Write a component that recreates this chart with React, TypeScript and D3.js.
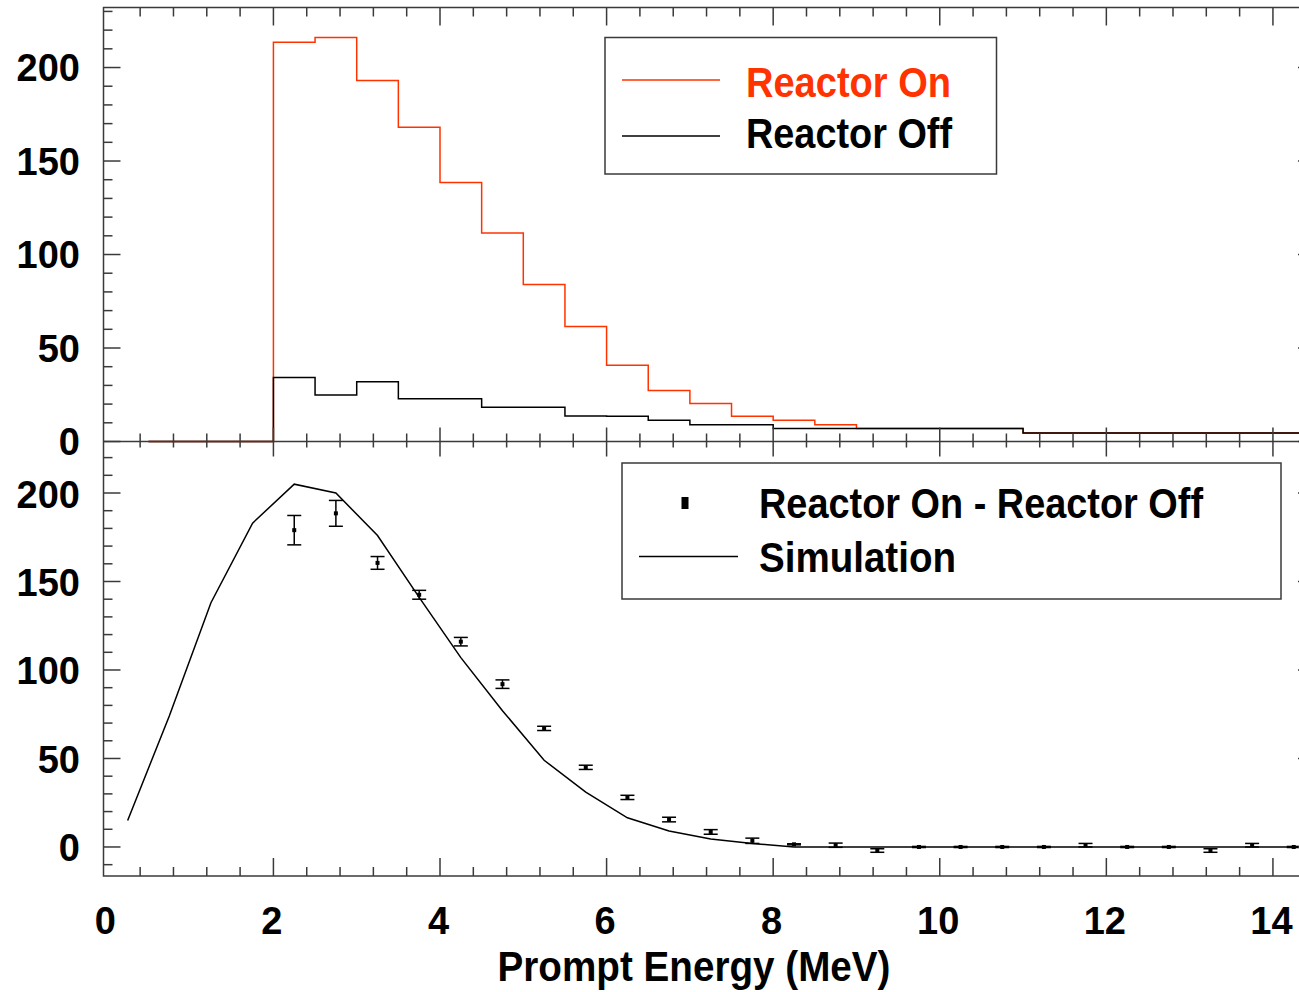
import React from "react";
import * as d3 from "d3";

// ---------- data ----------
const binEdges = [0.5, 1, 1.5, 2, 2.5, 3, 3.5, 4, 4.5, 5, 5.5, 6, 6.5, 7, 7.5, 8, 8.5, 9, 11, 14.5];
const reactorOn = [0, 0, 0, 213.5, 216, 193, 168, 138.5, 111.5, 84, 61.5, 40.8, 27.3, 20.3, 13.5, 11.3, 9, 7, 4.5];
const reactorOff = [0, 0, 0, 34.2, 24.9, 31.9, 22.8, 22.8, 18.3, 18.3, 13.7, 13.5, 11.3, 9, 9, 7, 7, 7, 4.5];

const diffEnergy = [2.25, 2.75, 3.25, 3.75, 4.25, 4.75, 5.25, 5.75, 6.25, 6.75, 7.25, 7.75, 8.25, 8.75, 9.25, 9.75, 10.25, 10.75, 11.25, 11.75, 12.25, 12.75, 13.25, 13.75, 14.25];
const diffValue = [179, 188.5, 160.5, 142.5, 116, 92, 67, 45, 28, 15.5, 8.5, 3.5, 1.5, 1, -2, 0, 0, 0, 0, 1, 0, 0, -2, 1, 0];
const diffError = [8.3, 7.3, 3.6, 2.5, 2.4, 2.4, 1.2, 1.2, 1.2, 1.3, 1.3, 1.5, 0.3, 1.2, 1, 0.3, 0.3, 0.3, 0.3, 1, 0.3, 0.3, 1, 1, 0.3];

const simEnergy = [0.25, 0.75, 1.25, 1.75, 2.25, 2.75, 3.25, 3.75, 4.25, 4.75, 5.25, 5.75, 6.25, 6.75, 7.25, 7.75, 8.25, 8.75, 9.25, 9.75, 10.25, 10.75, 11.25, 11.75, 12.25, 12.75, 13.25, 13.75, 14.25];
const simValue = [15, 74, 138, 183, 205, 200, 176, 141, 107, 77, 49, 31, 16.5, 9, 4.5, 2, 0, 0, 0, 0, 0, 0, 0, 0, 0, 0, 0, 0, 0];

const xMajorTicks = [0, 2, 4, 6, 8, 10, 12, 14];
const yMajorTicks = [0, 50, 100, 150, 200];

const RED = "#ff3300";
const FONT = "'Liberation Sans', Arial, Helvetica, sans-serif";

// ---------- layout ----------
const L = 103.5;
const R = 1315;
const TOP = 7.5;
const MID = 441.5;
const BOT = 876;

const x = d3.scaleLinear().domain([-0.04, 14.505]).range([L, R]);
const yTop = d3.scaleLinear().domain([0, 232.1]).range([MID, TOP]);
const yBot = d3.scaleLinear().domain([-16.4, 229.1]).range([BOT, MID]);

const xMinor = d3.range(0.4, 14.5, 0.4).filter((v) => Math.abs(v / 2 - Math.round(v / 2)) > 1e-6);
const yTopMinor = d3.range(0, 232, 10).filter((v) => v % 50 !== 0);
const yBotMinor = d3.range(-10, 229, 10).filter((v) => v % 50 !== 0);

function stepPath(values: number[]) {
  const pts: [number, number][] = values.map((v, i) => [binEdges[i], v]);
  pts.push([binEdges[binEdges.length - 1], values[values.length - 1]]);
  const line = d3
    .line<[number, number]>()
    .x((d) => x(d[0]))
    .y((d) => yTop(d[1]))
    .curve(d3.curveStepAfter);
  return line(pts) || "";
}

const simLine = d3
  .line<number>()
  .x((_, i) => x(simEnergy[i]))
  .y((d) => yBot(d))(simValue) || "";

const AX = "#3a3a3a";

function Frame() {
  const els: React.ReactNode[] = [];
  xMajorTicks
    .filter((t) => x(t) - L > 5)
    .forEach((t, i) => {
      const xx = x(t);
      els.push(<line key={"tt" + i} x1={xx} x2={xx} y1={TOP} y2={TOP + 18} />);
      els.push(<line key={"tm" + i} x1={xx} x2={xx} y1={MID} y2={MID - 14} />);
      els.push(<line key={"bm" + i} x1={xx} x2={xx} y1={MID} y2={MID + 15} />);
      els.push(<line key={"bb" + i} x1={xx} x2={xx} y1={BOT} y2={BOT - 18} />);
    });
  xMinor.forEach((t, i) => {
    const xx = x(t);
    els.push(<line key={"ttn" + i} x1={xx} x2={xx} y1={TOP} y2={TOP + 9} />);
    els.push(<line key={"tmn" + i} x1={xx} x2={xx} y1={MID} y2={MID - 8} />);
    els.push(<line key={"bmn" + i} x1={xx} x2={xx} y1={MID} y2={MID + 6} />);
    els.push(<line key={"bbn" + i} x1={xx} x2={xx} y1={BOT} y2={BOT - 9} />);
  });
  yMajorTicks.forEach((t, i) => {
    els.push(<line key={"ylt" + i} x1={L} x2={L + 17} y1={yTop(t)} y2={yTop(t)} />);
    els.push(<line key={"yrt" + i} x1={R} x2={R - 17} y1={yTop(t)} y2={yTop(t)} />);
    els.push(<line key={"ylb" + i} x1={L} x2={L + 17} y1={yBot(t)} y2={yBot(t)} />);
    els.push(<line key={"yrb" + i} x1={R} x2={R - 17} y1={yBot(t)} y2={yBot(t)} />);
  });
  yTopMinor.forEach((t, i) => {
    els.push(<line key={"yltn" + i} x1={L} x2={L + 9} y1={yTop(t)} y2={yTop(t)} />);
    els.push(<line key={"yrtn" + i} x1={R} x2={R - 9} y1={yTop(t)} y2={yTop(t)} />);
  });
  yBotMinor.forEach((t, i) => {
    els.push(<line key={"ylbn" + i} x1={L} x2={L + 9} y1={yBot(t)} y2={yBot(t)} />);
    els.push(<line key={"yrbn" + i} x1={R} x2={R - 9} y1={yBot(t)} y2={yBot(t)} />);
  });
  return (
    <g stroke={AX} strokeWidth={1.5} fill="none">
      <rect x={L} y={TOP} width={R - L} height={BOT - TOP} />
      <line x1={L} x2={R} y1={MID} y2={MID} />
      {els}
    </g>
  );
}

export default function App() {
  return (
    <svg width={1299} height={992} style={{ position: "absolute", left: 0, top: 0, background: "#fff" }}>
      <rect x={0} y={0} width={1299} height={992} fill="#fff" />
      {/* histograms */}
      <path d={stepPath(reactorOn)} fill="none" stroke={RED} strokeWidth={1.5} />
      <path d={stepPath(reactorOff)} fill="none" stroke="#000" strokeWidth={1.5} />

      {/* simulation */}
      <path d={simLine} fill="none" stroke="#000" strokeWidth={1.5} />

      {/* data points */}
      <g stroke="#000" strokeWidth={1.5}>
        {diffEnergy.map((e, i) => {
          const cx = x(e);
          const y1 = yBot(diffValue[i] + diffError[i]);
          const y2 = yBot(diffValue[i] - diffError[i]);
          const cy = yBot(diffValue[i]);
          return (
            <g key={i}>
              <line x1={cx} x2={cx} y1={y1} y2={y2} />
              <line x1={cx - 7} x2={cx + 7} y1={y1} y2={y1} />
              <line x1={cx - 7} x2={cx + 7} y1={y2} y2={y2} />
              <rect x={cx - 2} y={cy - 2} width={4} height={4} fill="#000" stroke="none" />
            </g>
          );
        })}
      </g>

      <Frame />

      {/* tick labels */}
      <g fontFamily={FONT} fontWeight="bold" fontSize={38} fill="#000">
        {yMajorTicks.map((t) => (
          <text key={"lt" + t} x={80} y={yTop(t) + 13.5} textAnchor="end">
            {t}
          </text>
        ))}
        {yMajorTicks.map((t) => (
          <text key={"lb" + t} x={80} y={yBot(t) + 14.5} textAnchor="end">
            {t}
          </text>
        ))}
        {xMajorTicks.map((t) => (
          <text key={"lx" + t} x={x(t) - 1.5} y={934} textAnchor="middle">
            {t}
          </text>
        ))}
        <text x={694} y={981} textAnchor="middle" fontSize={42} textLength={393} lengthAdjust="spacingAndGlyphs">
          Prompt Energy (MeV)
        </text>
      </g>

      {/* top legend */}
      <g>
        <rect x={605} y={37.5} width={391.5} height={136.5} fill="#fff" stroke={AX} strokeWidth={1.5} />
        <line x1={622} x2={720} y1={80} y2={80} stroke={RED} strokeWidth={1.5} />
        <line x1={622} x2={720} y1={136} y2={136} stroke="#000" strokeWidth={1.5} />
        <g fontFamily={FONT} fontWeight="bold" fontSize={42}>
          <text x={746} y={97} fill={RED} textLength={205} lengthAdjust="spacingAndGlyphs">
            Reactor On
          </text>
          <text x={746} y={148} fill="#000" textLength={206} lengthAdjust="spacingAndGlyphs">
            Reactor Off
          </text>
        </g>
      </g>

      {/* bottom legend */}
      <g>
        <rect x={622} y={463} width={659} height={136} fill="#fff" stroke={AX} strokeWidth={1.5} />
        <rect x={681.5} y={497} width={7} height={12} fill="#000" />
        <line x1={639} x2={738} y1={556.5} y2={556.5} stroke="#000" strokeWidth={1.5} />
        <g fontFamily={FONT} fontWeight="bold" fontSize={42} fill="#000">
          <text x={759} y={518} textLength={444} lengthAdjust="spacingAndGlyphs">
            Reactor On - Reactor Off
          </text>
          <text x={759} y={572} textLength={197} lengthAdjust="spacingAndGlyphs">
            Simulation
          </text>
        </g>
      </g>
    </svg>
  );
}
